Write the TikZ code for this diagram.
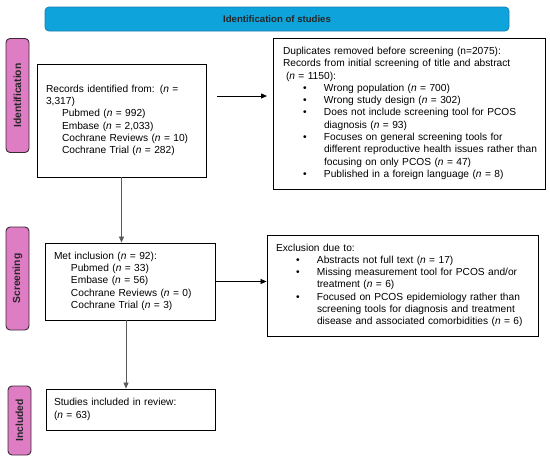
\documentclass[tikz,border=0pt]{standalone}
\usepackage{fontspec}
\setmainfont{Liberation Sans}
\usetikzlibrary{arrows.meta}
\definecolor{hdrfill}{HTML}{0EA3DB}
\definecolor{hdrdraw}{HTML}{1A7FB0}
\definecolor{sidefill}{HTML}{DE7CC4}
\definecolor{sidedraw}{HTML}{3A2A35}
\definecolor{vline}{HTML}{5A5A5A}
\newcommand{\blt}{\hspace*{20pt}\makebox[21pt][l]{\textbullet}}
\newcommand{\cnt}{\hspace*{41pt}}
\newcommand{\nn}{\textit{n}}
\begin{document}
\begin{tikzpicture}[x=1pt,y=-1pt,
  txt/.style={font=\fontsize{10.2}{12.3}\selectfont},
  box/.style={draw=black,line width=0.9pt,fill=white,txt,align=left,inner ysep=0pt},
  side/.style={draw=sidedraw,fill=sidefill,line width=0.9pt,rounded corners=4pt,
    font=\fontsize{10.3}{12}\selectfont\bfseries,text=black!85,inner sep=0pt},
  arr/.style={line width=0.8pt,-{Triangle[length=6pt,width=5pt]}},
]
\useasboundingbox (0,0) rectangle (550,459);
% header
\node[draw=hdrdraw,fill=hdrfill,line width=0.8pt,rounded corners=4pt,
  minimum width=464pt,minimum height=24pt,inner sep=0pt,
  font=\fontsize{9.6}{11}\selectfont\bfseries,text=black!85] (hdr) at (277,19) {Identification of studies};
% side bars
\node[side,minimum width=23pt,minimum height=114pt] (sid) at (17.5,95.5) {};
\node[rotate=90,font=\fontsize{10.3}{12}\selectfont\bfseries,text=black!85] (sidt) at (sid.center) {Identification};
\node[side,minimum width=23pt,minimum height=103pt] (ssc) at (17.5,278.5) {};
\node[rotate=90,font=\fontsize{10.3}{12}\selectfont\bfseries,text=black!85] (ssct) at (ssc.center) {Screening};
\node[side,minimum width=23pt,minimum height=69pt] (sin) at (19.5,420.5) {};
\node[rotate=90,font=\fontsize{10.3}{12}\selectfont\bfseries,text=black!85] (sint) at (sin.center) {Included};
% boxes
\node[box,minimum width=169pt,minimum height=113pt,inner xsep=9pt,text width=151pt] (rec) at (121.5,120.5) {%
\begin{tabular}{@{}l@{}}
Records identified from: (\nn{} =\\
3,317)\\
\hspace*{16pt}Pubmed (\nn{} = 992)\\
\hspace*{16pt}Embase (\nn{} = 2,033)\\
\hspace*{16pt}Cochrane Reviews (\nn{} = 10)\\
\hspace*{16pt}Cochrane Trial (\nn{} = 282)
\end{tabular}};
\node[box,minimum width=272pt,minimum height=151pt,inner xsep=10pt,text width=252pt] (dup) at (409,113.5) {%
\begin{tabular}{@{}l@{}}
Duplicates removed before screening (n=2075):\\
Records from initial screening of title and abstract\\
\hspace*{3pt}(\nn{} = 1150):\\
\blt Wrong population (\nn{} = 700)\\
\blt Wrong study design (\nn{} = 302)\\
\blt Does not include screening tool for PCOS\\
\cnt diagnosis (\nn{} = 93)\\
\blt Focuses on general screening tools for\\
\cnt different reproductive health issues rather than\\
\cnt focusing on only PCOS (\nn{} = 47)\\
\blt Published in a foreign language (\nn{} = 8)
\end{tabular}};
\node[box,minimum width=170pt,minimum height=77pt,inner xsep=9pt,text width=152pt] (met) at (130,281.5) {%
\begin{tabular}{@{}l@{}}
Met inclusion (\nn{} = 92):\\
\hspace*{17pt}Pubmed (\nn{} = 33)\\
\hspace*{17pt}Embase (\nn{} = 56)\\
\hspace*{17pt}Cochrane Reviews (\nn{} = 0)\\
\hspace*{17pt}Cochrane Trial (\nn{} = 3)
\end{tabular}};
\node[box,minimum width=271pt,minimum height=101pt,inner xsep=9pt,text width=253pt] (exc) at (402.5,285.5) {%
\begin{tabular}{@{}l@{}}
Exclusion due to:\\
\blt Abstracts not full text (\nn{} = 17)\\
\blt Missing measurement tool for PCOS and/or\\
\cnt treatment (\nn{} = 6)\\
\blt Focused on PCOS epidemiology rather than\\
\cnt screening tools for diagnosis and treatment\\
\cnt disease and associated comorbidities (\nn{} = 6)
\end{tabular}};
\node[box,minimum width=169pt,minimum height=41pt,inner xsep=8pt,text width=153pt] (stu) at (130.5,409.5) {%
\begin{tabular}{@{}l@{}}
Studies included in review:\\
(\nn{} = 63)
\end{tabular}};
% connectors
\coordinate (a1s) at (217,96);
\coordinate (a1e) at (267,96);
\draw[arr] (a1s) -- (a1e);
\draw[arr,vline] (rec.south) -- (rec.south |- met.north);
\draw[arr] (met.east) -- (met.east -| exc.west);
\draw[arr,vline] ([xshift=-4pt]met.south) -- ([xshift=-4pt]met.south |- stu.north);
\end{tikzpicture}
\end{document}
